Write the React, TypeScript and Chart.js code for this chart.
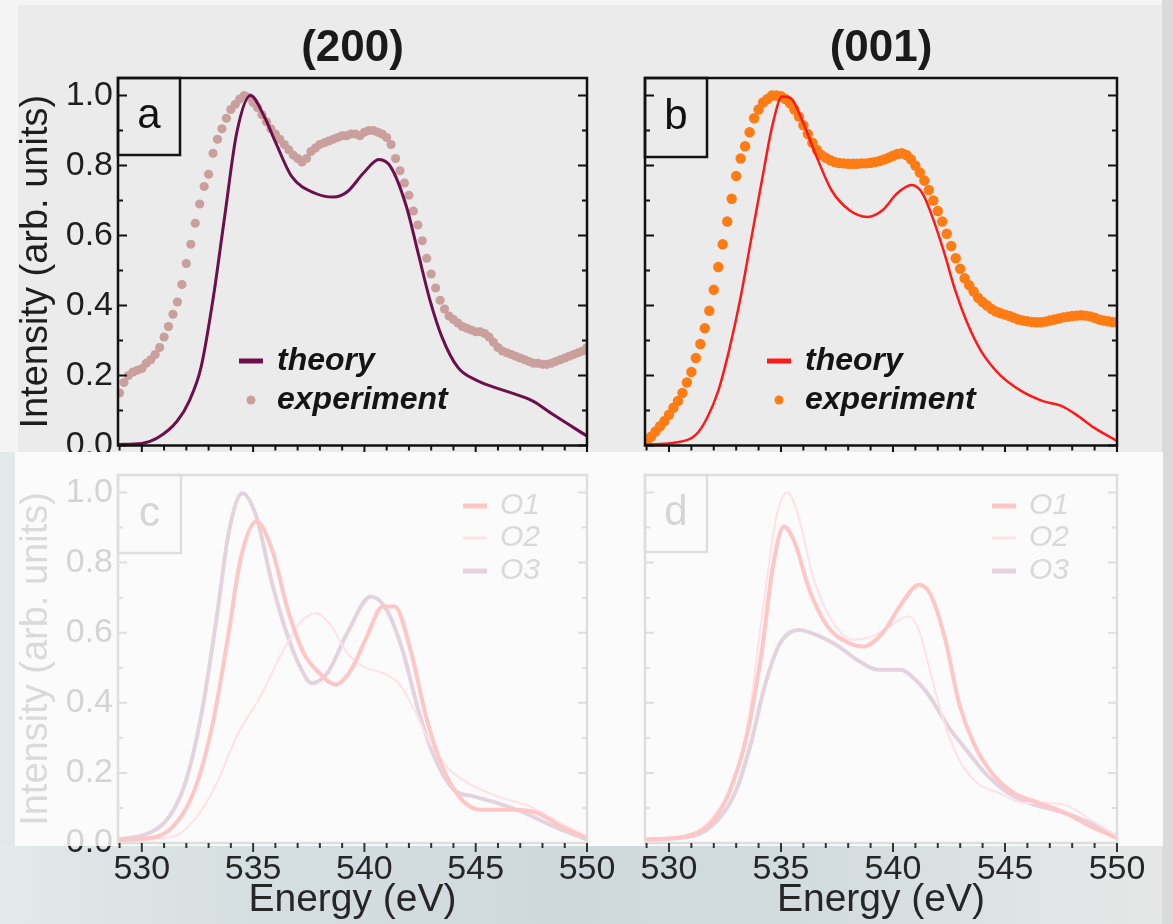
import React, { useEffect, useRef } from "react";
import { Chart, registerables } from "chart.js";
Chart.register(...registerables);

const FONT = "'Liberation Sans', Arial, Helvetica, sans-serif";

// ---------- axes ----------
const X_MIN = 528.93;
const X_MAX = 550;
const Y_MIN = 0;
const Y_MAX = 1.05;
const xMajorTicks = [530, 535, 540, 545, 550];
const xMinorTicks = [529, 531, 532, 533, 534, 536, 537, 538, 539, 541, 542, 543, 544, 546, 547, 548, 549];
const yMajorTicks = [0, 0.2, 0.4, 0.6, 0.8, 1.0];
const yMinorTicks = [0.1, 0.3, 0.5, 0.7, 0.9];

// ---------- panel a : (200) ----------
const theoryA_E = [528.93, 530.0, 530.71, 531.59, 532.13, 532.66, 533.19, 533.72, 534.26, 534.88, 535.5, 536.03, 536.74, 537.81, 538.6, 539.23, 539.94, 540.65, 541.18, 541.89, 542.42, 542.95, 543.49, 544.2, 545.08, 546.33, 547.57, 548.46, 550.0];
const theoryA_I = [0.003, 0.006, 0.022, 0.07, 0.127, 0.223, 0.414, 0.653, 0.892, 1.0, 0.94, 0.863, 0.768, 0.72, 0.71, 0.725, 0.777, 0.817, 0.796, 0.682, 0.548, 0.414, 0.309, 0.223, 0.185, 0.156, 0.127, 0.089, 0.027];

const expE = [
  529.0, 529.2, 529.4, 529.6, 529.8, 530.0, 530.2, 530.4, 530.6, 530.8,
  531.0, 531.2, 531.4, 531.6, 531.8, 532.0, 532.2, 532.4, 532.6, 532.8,
  533.0, 533.2, 533.4, 533.6, 533.8, 534.0, 534.2, 534.4, 534.6, 534.8,
  535.0, 535.2, 535.4, 535.6, 535.8, 536.0, 536.2, 536.4, 536.6, 536.8,
  537.0, 537.2, 537.4, 537.6, 537.8, 538.0, 538.2, 538.4, 538.6, 538.8,
  539.0, 539.2, 539.4, 539.6, 539.8, 540.0, 540.2, 540.4, 540.6, 540.8,
  541.0, 541.2, 541.4, 541.6, 541.8, 542.0, 542.2, 542.4, 542.6, 542.8,
  543.0, 543.2, 543.4, 543.6, 543.8, 544.0, 544.2, 544.4, 544.6, 544.8,
  545.0, 545.2, 545.4, 545.6, 545.8, 546.0, 546.2, 546.4, 546.6, 546.8,
  547.0, 547.2, 547.4, 547.6, 547.8, 548.0, 548.2, 548.4, 548.6, 548.8,
  549.0, 549.2, 549.4, 549.6, 549.8, 550.0,
];
const expA_I = [
  0.15, 0.18, 0.2, 0.21, 0.215, 0.22, 0.235, 0.245, 0.26, 0.28,
  0.31, 0.34, 0.375, 0.41, 0.46, 0.52, 0.575, 0.635, 0.69, 0.74,
  0.775, 0.835, 0.875, 0.905, 0.935, 0.96, 0.975, 0.99, 1.0, 0.995,
  0.98, 0.965, 0.945, 0.925, 0.905, 0.89, 0.875, 0.86, 0.845, 0.83,
  0.82, 0.81, 0.82, 0.84, 0.85, 0.86, 0.865, 0.87, 0.875, 0.88,
  0.885, 0.885, 0.89, 0.89, 0.885, 0.895, 0.9, 0.9, 0.895, 0.89,
  0.88, 0.86, 0.82, 0.785, 0.75, 0.715, 0.67, 0.63, 0.585, 0.535,
  0.49, 0.45, 0.415, 0.39, 0.37, 0.36, 0.35, 0.34, 0.335, 0.33,
  0.325, 0.325, 0.32, 0.31, 0.295, 0.28, 0.27, 0.265, 0.26, 0.255,
  0.25, 0.245, 0.24, 0.235, 0.235, 0.232, 0.232, 0.235, 0.24, 0.245,
  0.25, 0.255, 0.26, 0.265, 0.27, 0.28,
];

// ---------- panel b : (001) ----------
const theoryB_E = [528.97, 530.24, 531.22, 531.71, 532.2, 532.68, 533.17, 533.66, 534.15, 534.64, 535.05, 535.45, 535.94, 536.59, 537.25, 538.06, 538.87, 539.53, 540.18, 540.83, 541.32, 541.81, 542.3, 542.78, 543.27, 543.92, 544.74, 545.72, 546.69, 547.51, 548.16, 548.97, 550.0];
const theoryB_I = [0.003, 0.008, 0.032, 0.08, 0.156, 0.271, 0.414, 0.586, 0.758, 0.921, 0.997, 0.992, 0.93, 0.825, 0.73, 0.672, 0.653, 0.672, 0.72, 0.744, 0.72, 0.644, 0.548, 0.443, 0.357, 0.271, 0.204, 0.156, 0.127, 0.113, 0.089, 0.051, 0.013];
const expB_I = [
  0.01, 0.025, 0.04, 0.055, 0.07, 0.088, 0.108, 0.127, 0.15, 0.18,
  0.21, 0.25, 0.29, 0.335, 0.385, 0.445, 0.51, 0.575, 0.64, 0.705,
  0.77, 0.82, 0.855, 0.895, 0.935, 0.96, 0.98, 0.99, 1.0, 1.0,
  0.998, 0.99, 0.978, 0.96, 0.94, 0.915, 0.89, 0.865, 0.845, 0.83,
  0.822, 0.815, 0.81, 0.807, 0.806, 0.805, 0.805, 0.805, 0.806, 0.806,
  0.808, 0.81, 0.813, 0.817, 0.822, 0.828, 0.833, 0.835, 0.83, 0.818,
  0.8, 0.78, 0.757, 0.73, 0.7, 0.67, 0.64, 0.605, 0.57, 0.535,
  0.505, 0.478, 0.458, 0.44, 0.422, 0.41, 0.4, 0.39, 0.383, 0.378,
  0.374, 0.37, 0.365, 0.36, 0.357, 0.355, 0.353, 0.352, 0.352, 0.354,
  0.357, 0.36, 0.363, 0.366, 0.368, 0.37, 0.371, 0.372, 0.371, 0.369,
  0.365, 0.36, 0.357, 0.355, 0.353, 0.352,
];

// ---------- panel c : (200) site resolved ----------
const o1C_E = [528.93, 530.71, 531.77, 532.48, 533.19, 533.9, 534.43, 535.14, 535.85, 536.56, 537.27, 537.98, 538.69, 539.4, 540.11, 540.82, 541.36, 542.07, 542.77, 543.49, 544.37, 545.26, 546.68, 547.75, 548.81, 550.0];
const o1C_I = [0.008, 0.019, 0.076, 0.171, 0.342, 0.599, 0.808, 0.917, 0.837, 0.665, 0.542, 0.485, 0.452, 0.494, 0.589, 0.675, 0.675, 0.551, 0.361, 0.219, 0.124, 0.095, 0.095, 0.086, 0.048, 0.014];
const o2C_E = [528.93, 531.42, 532.48, 533.37, 534.26, 535.32, 536.21, 537.1, 537.81, 538.52, 539.23, 539.94, 540.82, 541.53, 542.24, 542.95, 543.84, 544.91, 545.97, 547.39, 548.81, 550.0];
const o2C_I = [0.005, 0.019, 0.076, 0.171, 0.304, 0.418, 0.532, 0.627, 0.656, 0.618, 0.542, 0.504, 0.485, 0.456, 0.38, 0.285, 0.209, 0.162, 0.133, 0.105, 0.057, 0.019];
const o3C_E = [528.93, 530.35, 531.24, 531.95, 532.66, 533.37, 533.9, 534.52, 535.14, 535.85, 536.56, 537.1, 537.63, 538.34, 539.23, 540.29, 541.0, 541.71, 542.42, 543.13, 544.02, 544.91, 545.97, 547.21, 548.46, 550.0];
const o3C_I = [0.01, 0.029, 0.076, 0.171, 0.361, 0.646, 0.884, 0.998, 0.932, 0.741, 0.589, 0.504, 0.456, 0.485, 0.599, 0.703, 0.665, 0.551, 0.38, 0.247, 0.152, 0.133, 0.114, 0.086, 0.048, 0.01];

// ---------- panel d : (001) site resolved ----------
const o1D_E = [528.97, 530.73, 531.87, 532.68, 533.5, 534.15, 534.64, 535.13, 535.62, 536.27, 537.08, 538.06, 538.71, 539.53, 540.5, 541.15, 541.64, 542.3, 542.95, 543.6, 544.41, 545.39, 546.53, 547.67, 548.81, 550.0];
const o1D_I = [0.01, 0.019, 0.057, 0.143, 0.314, 0.551, 0.789, 0.903, 0.856, 0.722, 0.618, 0.57, 0.561, 0.599, 0.694, 0.737, 0.713, 0.589, 0.399, 0.285, 0.2, 0.143, 0.114, 0.086, 0.048, 0.014];
const o2D_E = [528.97, 530.73, 531.87, 532.68, 533.5, 534.15, 534.8, 535.29, 535.78, 536.43, 537.25, 538.22, 539.04, 539.85, 540.67, 541.15, 541.64, 542.3, 542.95, 543.76, 544.74, 545.88, 546.86, 547.83, 548.81, 550.0];
const o2D_I = [0.01, 0.019, 0.067, 0.152, 0.333, 0.646, 0.932, 1.0, 0.932, 0.76, 0.637, 0.58, 0.589, 0.618, 0.646, 0.608, 0.494, 0.342, 0.238, 0.171, 0.143, 0.114, 0.114, 0.105, 0.067, 0.019];
const o3D_E = [528.97, 531.05, 532.2, 533.01, 533.66, 534.31, 534.96, 535.78, 536.76, 537.57, 538.39, 539.36, 540.34, 541.0, 541.64, 542.46, 543.27, 544.25, 545.39, 546.53, 547.67, 548.81, 550.0];
const o3D_I = [0.01, 0.019, 0.067, 0.152, 0.285, 0.456, 0.57, 0.608, 0.589, 0.561, 0.523, 0.494, 0.494, 0.466, 0.418, 0.333, 0.266, 0.19, 0.133, 0.105, 0.086, 0.057, 0.019];

const pts = (xs: number[], ys: number[]) => xs.map((x, i) => ({ x, y: ys[i] }));

const lineDs = (label: string, xs: number[], ys: number[], color: string, width: number) => ({
  label,
  data: pts(xs, ys),
  showLine: true,
  borderColor: color,
  backgroundColor: color,
  borderWidth: width,
  pointRadius: 0,
  cubicInterpolationMode: "monotone",
  fill: false,
});
const dotDs = (label: string, xs: number[], ys: number[], color: string, r: number) => ({
  label,
  data: pts(xs, ys),
  showLine: false,
  pointRadius: r,
  pointBorderWidth: 0,
  pointBackgroundColor: color,
  pointBorderColor: color,
  backgroundColor: color,
  borderColor: color,
});

const decoPlugin = {
  id: "deco",
  afterDraw(chart: any, _a: any, o: any) {
    const { ctx, chartArea: ca } = chart;
    const xs = chart.scales.x;
    const ys = chart.scales.y;
    ctx.save();
    // frame
    ctx.strokeStyle = o.frame;
    ctx.lineWidth = 2.5;
    ctx.strokeRect(ca.left, ca.top, ca.right - ca.left, ca.bottom - ca.top);
    // y ticks (inward, both sides)
    ctx.lineWidth = 2;
    const yt = (v: number, len: number) => {
      const p = ys.getPixelForValue(v);
      ctx.beginPath();
      ctx.moveTo(ca.left, p);
      ctx.lineTo(ca.left + len, p);
      ctx.moveTo(ca.right, p);
      ctx.lineTo(ca.right - len, p);
      ctx.stroke();
    };
    yMajorTicks.forEach((v) => yt(v, 9));
    yMinorTicks.forEach((v) => yt(v, 5));
    // x ticks (outward, bottom)
    ctx.strokeStyle = o.xTick;
    const xt = (v: number, len: number) => {
      const p = xs.getPixelForValue(v);
      ctx.beginPath();
      ctx.moveTo(p, ca.bottom);
      ctx.lineTo(p, ca.bottom + len);
      ctx.stroke();
    };
    xMajorTicks.forEach((v) => xt(v, 9));
    xMinorTicks.forEach((v) => xt(v, 5));
    // tag box
    ctx.strokeStyle = o.frame;
    ctx.lineWidth = 2.5;
    ctx.strokeRect(ca.left, ca.top, o.tagW, o.tagH);
    ctx.fillStyle = o.text;
    ctx.font = `42px ${FONT}`;
    ctx.textAlign = "center";
    ctx.textBaseline = "middle";
    ctx.fillText(o.tag, ca.left + o.tagW / 2, ca.top + o.tagH / 2);
    // title
    if (o.title) {
      ctx.font = `bold 44px ${FONT}`;
      ctx.fillStyle = "#1a1a1a";
      ctx.fillText(o.title, (ca.left + ca.right) / 2, ca.top - 29);
    }
    // legend
    const lg = o.legend;
    chart.data.datasets.forEach((ds: any, i: number) => {
      const yy = ca.top + lg.rows[i];
      if (ds.showLine) {
        ctx.strokeStyle = ds.borderColor;
        ctx.lineWidth = lg.sw[i];
        ctx.beginPath();
        ctx.moveTo(ca.left + lg.x0, yy);
        ctx.lineTo(ca.left + lg.x1, yy);
        ctx.stroke();
      } else {
        ctx.fillStyle = ds.pointBackgroundColor;
        ctx.beginPath();
        ctx.arc(ca.left + (lg.x0 + lg.x1) / 2, yy, lg.sw[i], 0, Math.PI * 2);
        ctx.fill();
      }
      ctx.fillStyle = lg.color;
      ctx.font = lg.font;
      ctx.textAlign = "left";
      ctx.textBaseline = "middle";
      ctx.fillText(ds.label, ca.left + lg.tx, yy);
    });
    // lower part of the "0.0" label that sits in the dark strip
    if (o.darkZero) {
      ctx.save();
      ctx.beginPath();
      ctx.rect(0, o.darkZero, ca.left, 200);
      ctx.clip();
      ctx.fillStyle = "#262626";
      ctx.font = `34px ${FONT}`;
      ctx.textAlign = "right";
      ctx.textBaseline = "middle";
      ctx.fillText("0.0", ca.left - 5, ys.getPixelForValue(0));
      ctx.restore();
    }
    ctx.restore();
  },
};

type Cfg = {
  left: number; top: number; w: number; h: number;
  padTop: number; padRight: number; yW: number; xH: number;
  showY: boolean; showX: boolean; faded: boolean;
  datasets: any[]; deco: any;
};

function Panel({ cfg }: { cfg: Cfg }) {
  const ref = useRef<HTMLCanvasElement>(null);
  useEffect(() => {
    const labelCol = cfg.faded ? "#d4d4d4" : "#1e1e1e";
    const chart = new Chart(ref.current as HTMLCanvasElement, {
      type: "scatter",
      data: { datasets: cfg.datasets },
      plugins: [decoPlugin],
      options: {
        responsive: false,
        animation: false,
        devicePixelRatio: 1,
        events: [],
        layout: { padding: { left: 0, right: cfg.padRight, top: cfg.padTop, bottom: 0 } },
        plugins: {
          legend: { display: false },
          tooltip: { enabled: false },
          title: { display: false },
          deco: cfg.deco,
        } as any,
        scales: {
          x: {
            type: "linear",
            min: X_MIN,
            max: X_MAX,
            grid: { display: false, drawTicks: false },
            border: { display: false },
            ticks: {
              display: cfg.showX,
              stepSize: 5,
              includeBounds: false,
              autoSkip: false,
              maxRotation: 0,
              padding: 6,
              color: "#262626",
              font: { family: FONT, size: 34 },
              callback: (v: any) => String(Math.round(Number(v))),
            },
            title: {
              display: cfg.showX,
              text: "Energy (eV)",
              color: "#262626",
              font: { family: FONT, size: 39 },
              padding: { top: 0, bottom: 0 },
            },
            afterFit: (s: any) => {
              s.height = cfg.xH;
              s.paddingLeft = 0;
              s.paddingRight = 0;
            },
          },
          y: {
            type: "linear",
            min: Y_MIN,
            max: Y_MAX,
            grid: { display: false, drawTicks: false },
            border: { display: false },
            ticks: {
              display: cfg.showY,
              stepSize: 0.2,
              includeBounds: false,
              autoSkip: false,
              padding: 5,
              color: labelCol,
              font: { family: FONT, size: 34 },
              callback: (v: any) => Number(v).toFixed(1),
            },
            title: {
              display: cfg.showY,
              text: "Intensity (arb. units)",
              color: cfg.faded ? "#dadada" : "#1e1e1e",
              font: { family: FONT, size: 38 },
              padding: { top: 14, bottom: 0 },
            },
            afterFit: (s: any) => {
              s.width = cfg.yW;
              s.paddingTop = 0;
              s.paddingBottom = 0;
            },
          },
        },
      } as any,
    });
    return () => chart.destroy();
  }, []);
  return (
    <canvas
      ref={ref}
      width={cfg.w}
      height={cfg.h}
      style={{ position: "absolute", left: cfg.left, top: cfg.top, width: cfg.w, height: cfg.h }}
    />
  );
}

const topLegend = (x0: number) => ({
  x0,
  x1: x0 + 24,
  tx: x0 + 38,
  rows: [283, 322],
  sw: [5, 4.5],
  font: `italic bold 32px ${FONT}`,
  color: "#141414",
});
const botLegend = (x0: number) => ({
  x0,
  x1: x0 + 24,
  tx: x0 + 37,
  rows: [31, 63, 96],
  sw: [5, 3, 5],
  font: `italic 30px ${FONT}`,
  color: "#d9d9d9",
});

const panels: Cfg[] = [
  {
    left: 0, top: 0, w: 600, h: 452, padTop: 78, padRight: 13, yW: 118, xH: 6.5,
    showY: true, showX: false, faded: false,
    datasets: [
      lineDs("theory", theoryA_E, theoryA_I, "#6c0f4a", 3),
      dotDs("experiment", expE, expA_I, "#c9a09e", 4.6),
    ],
    deco: { frame: "#111", xTick: "#111", text: "#111", tag: "a", tagW: 62, tagH: 77, title: "(200)", legend: topLegend(121) },
  },
  {
    left: 600, top: 0, w: 573, h: 452, padTop: 78, padRight: 56, yW: 45, xH: 6.5,
    showY: false, showX: false, faded: false,
    datasets: [
      lineDs("theory", theoryB_E, theoryB_I, "#ff1a1a", 2.5),
      dotDs("experiment", expE, expB_I, "#ff7b14", 5.2),
    ],
    deco: { frame: "#111", xTick: "#111", text: "#111", tag: "b", tagW: 62, tagH: 79, title: "(001)", legend: topLegend(122) },
  },
  {
    left: 0, top: 452, w: 630, h: 472, padTop: 23, padRight: 43, yW: 118, xH: 81,
    showY: true, showX: true, faded: true,
    datasets: [
      lineDs("O1", o1C_E, o1C_I, "#ffc6c6", 4),
      lineDs("O2", o2C_E, o2C_I, "#ffe1e7", 2),
      lineDs("O3", o3C_E, o3C_I, "#e3d3df", 4),
    ],
    deco: { frame: "#dedede", xTick: "#333", text: "#d6d6d6", tag: "c", tagW: 63, tagH: 78, title: "", legend: botLegend(345), darkZero: 394 },
  },
  {
    left: 600, top: 452, w: 573, h: 472, padTop: 23, padRight: 56, yW: 45, xH: 81,
    showY: false, showX: true, faded: true,
    datasets: [
      lineDs("O1", o1D_E, o1D_I, "#ffc6c6", 4),
      lineDs("O2", o2D_E, o2D_I, "#ffe1e7", 2),
      lineDs("O3", o3D_E, o3D_I, "#e3d3df", 4),
    ],
    deco: { frame: "#dedede", xTick: "#333", text: "#d6d6d6", tag: "d", tagW: 62, tagH: 77, title: "", legend: botLegend(347) },
  },
];

export default function App() {
  const box = (l: number, t: number, w: number, h: number, bg: string) => (
    <div style={{ position: "absolute", left: l, top: t, width: w, height: h, background: bg }} />
  );
  return (
    <div
      style={{
        position: "fixed",
        left: 0,
        top: 0,
        width: 1173,
        height: 924,
        overflow: "hidden",
        background: "#f4f4f4",
      }}
    >
      {box(18, 5, 1144, 447, "#ebebeb")}
      {box(1162, 0, 11, 924, "#dadada")}
      {box(15, 452, 1148, 394, "#fbfbfb")}
      {box(0, 452, 15, 472, "#e3e8e9")}
      {box(
        0,
        846,
        1162,
        78,
        "linear-gradient(90deg, #e4e9ea 0%, #d5dee0 22%, #cfd9dc 48%, #d3dcdf 72%, #e2e6e7 92%, #e6e6e6 100%)"
      )}
      {panels.map((p, i) => (
        <Panel key={i} cfg={p} />
      ))}
    </div>
  );
}
